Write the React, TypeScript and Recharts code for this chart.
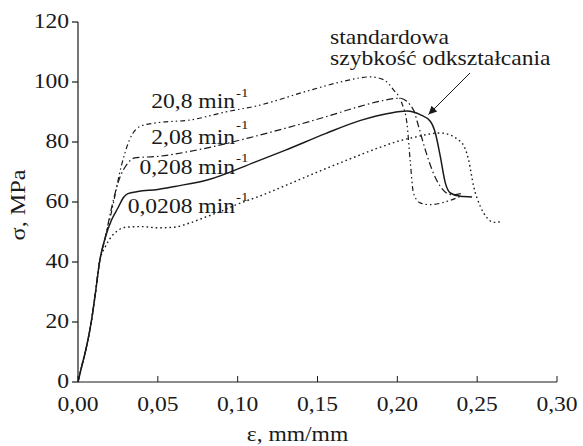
import React from "react";
import { LineChart, Line, XAxis, YAxis } from "recharts";

// strain (mm/mm) and stress (MPa)
const strain208 = [0, 0.002, 0.005, 0.0083, 0.011, 0.0135, 0.017, 0.0208, 0.0271, 0.0323, 0.0397, 0.048, 0.071, 0.094, 0.1108, 0.145, 0.166, 0.183, 0.1913, 0.1976, 0.2028, 0.206, 0.208, 0.2101, 0.2143, 0.2206, 0.2311, 0.2395];
const stress208 = [0, 4.5, 11, 20, 30, 40, 48, 56.3, 71.9, 80.8, 85.4, 86.3, 87.4, 90.2, 91.9, 97.2, 100.2, 101.7, 100.8, 97.4, 93, 86.3, 74.1, 63, 59.7, 59.1, 60.2, 61.9];

const strain2_08 = [0, 0.002, 0.005, 0.0083, 0.011, 0.0135, 0.017, 0.021, 0.025, 0.0313, 0.0355, 0.05, 0.0752, 0.1108, 0.1558, 0.1767, 0.1892, 0.2015, 0.21, 0.2133, 0.2175, 0.2217, 0.2269, 0.2342, 0.2415];
const stress2_08 = [0, 4.5, 11, 20, 30, 40, 48, 58, 66.3, 73, 74.7, 75.2, 77.4, 81.9, 88.5, 91.9, 93.6, 94.6, 90.8, 85.2, 77.4, 70.8, 65.2, 62.4, 63];

const strain0_208 = [0, 0.002, 0.005, 0.0083, 0.011, 0.0135, 0.017, 0.021, 0.025, 0.0285, 0.0313, 0.0375, 0.05, 0.0606, 0.0815, 0.1108, 0.13, 0.155, 0.177, 0.195, 0.206, 0.2143, 0.2206, 0.2238, 0.2269, 0.2301, 0.2332, 0.2395, 0.2468];
const stress0_208 = [0, 4.5, 11, 20, 30, 40, 48, 54, 58, 61.5, 62.8, 63.5, 64.2, 65.2, 67.4, 73.3, 77.3, 82.8, 87.2, 89.6, 90.3, 89.1, 86.9, 83, 75.2, 66.3, 63, 61.9, 61.7];

const strain0_0208 = [0, 0.002, 0.005, 0.0083, 0.011, 0.0135, 0.017, 0.021, 0.025, 0.03, 0.04, 0.05, 0.06, 0.07, 0.08, 0.09, 0.1, 0.114, 0.13, 0.15, 0.17, 0.189, 0.2, 0.21, 0.2269, 0.2395, 0.2446, 0.2478, 0.252, 0.2562, 0.2603, 0.2656];
const stress0_0208 = [0, 4.5, 11, 20, 30, 40, 45, 48.5, 50.5, 51.6, 51.8, 51.4, 51.6, 53, 55, 57, 59.3, 62, 65.5, 70, 74.3, 78.2, 80.2, 81.5, 83, 80.2, 74.1, 65.2, 58.5, 54.7, 53.2, 53.5];

const rateLabels = ["20,8 min", "2,08 min", "0,208 min", "0,0208 min"];
const xTicks = [0, 0.05, 0.1, 0.15, 0.2, 0.25, 0.3];
const yTicks = [0, 20, 40, 60, 80, 100, 120];

const toPoints = (xs: number[], ys: number[]) => xs.map((x, i) => ({ x, y: ys[i] }));

const series = [
  { name: rateLabels[0], data: toPoints(strain208, stress208), dash: "5 3 1.5 3 1.5 3", width: 1.2 },
  { name: rateLabels[1], data: toPoints(strain2_08, stress2_08), dash: "7 3 1.5 3", width: 1.2 },
  { name: rateLabels[2], data: toPoints(strain0_208, stress0_208), dash: undefined, width: 1.5 },
  { name: rateLabels[3], data: toPoints(strain0_0208, stress0_0208), dash: "1.6 3", width: 1.4 },
];

// label placement (right end of "min", baseline, superscript baseline)
const labelPos = [
  { x: 235, y: 108, sy: 97 },
  { x: 235, y: 144, sy: 129 },
  { x: 235, y: 174, sy: 162 },
  { x: 235, y: 213, sy: 201 },
];

const FONT = "'Liberation Serif', 'Times New Roman', serif";
const INK = "#1a1a1a";
const FS = 20.5;
const STRETCH = 1.15;

const fmt = (v: number) => v.toFixed(2).replace(".", ",");

// the source font is a wide Times; stretch it horizontally
const SText = ({ x, y, anchor = "start", size = FS, children }: any) => (
  <text
    transform={`translate(${x} ${y}) scale(${STRETCH} 1)`}
    textAnchor={anchor}
    fontFamily={FONT}
    fontSize={size}
    fill={INK}
  >
    {children}
  </text>
);

const BottomTick = (props: any) => {
  const { x, y, payload } = props;
  return (
    <g>
      <line x1={x} y1={y} x2={x} y2={y - 6} stroke={INK} strokeWidth={1} />
      <SText x={x} y={y + 29} anchor="middle">
        {fmt(payload.value)}
      </SText>
    </g>
  );
};

const LeftTick = (props: any) => {
  const { x, y, payload } = props;
  return (
    <SText x={x} y={y + 6} anchor="end">
      {payload.value}
    </SText>
  );
};

export default function App() {
  return (
    <div style={{ position: "absolute", left: 0, top: 0, width: 583, height: 446, background: "#fff" }}>
      <LineChart width={583} height={446} margin={{ top: 22, right: 26, left: 0, bottom: 0 }}>
        <XAxis
          type="number"
          dataKey="x"
          domain={[0, 0.3]}
          ticks={xTicks}
          height={64}
          allowDataOverflow
          stroke={INK}
          strokeWidth={1.2}
          tickLine={false}
          tickSize={0}
          tickMargin={0}
          tick={<BottomTick />}
        />
        <XAxis
          xAxisId="top"
          orientation="top"
          type="number"
          domain={[0, 0.3]}
          ticks={xTicks}
          height={0}
          mirror
          tick={false}
          tickSize={5}
          stroke={INK}
          strokeWidth={1.2}
        />
        <YAxis
          type="number"
          domain={[0, 120]}
          ticks={yTicks}
          width={78}
          stroke={INK}
          strokeWidth={1.2}
          tickSize={6}
          tickMargin={3}
          tick={<LeftTick />}
        />
        <YAxis
          yAxisId="right"
          orientation="right"
          type="number"
          domain={[0, 120]}
          ticks={yTicks}
          width={0}
          mirror
          tick={false}
          tickSize={5}
          stroke={INK}
          strokeWidth={1.2}
        />
        {series.map((s) => (
          <Line
            key={s.name}
            data={s.data}
            dataKey="y"
            type="monotone"
            stroke={INK}
            strokeWidth={s.width}
            strokeDasharray={s.dash}
            dot={false}
            isAnimationActive={false}
          />
        ))}
      </LineChart>
      <svg
        width={583}
        height={446}
        style={{ position: "absolute", left: 0, top: 0, pointerEvents: "none" }}
      >
        {series.map((s, i) => (
          <g key={s.name}>
            <SText x={labelPos[i].x} y={labelPos[i].y} anchor="end">
              {s.name}
            </SText>
            <SText x={labelPos[i].x + 1} y={labelPos[i].sy} size={13}>
              -1
            </SText>
          </g>
        ))}
        <SText x={330} y={44}>standardowa</SText>
        <SText x={330} y={65}>szybkość odkształcania</SText>
        <line x1={470} y1={73} x2={428.5} y2={114.5} stroke={INK} strokeWidth={1} />
        <path d="M428.5 114.5 L431.5 105.8 L437.2 111.5 Z" fill={INK} />
        <SText x={297.5} y={441} anchor="middle">ε, mm/mm</SText>
        <text
          transform="translate(25 205) rotate(-90) scale(1.1 1)"
          textAnchor="middle"
          fontFamily={FONT}
          fontSize={22}
          fill={INK}
        >
          σ, MPa
        </text>
      </svg>
    </div>
  );
}
